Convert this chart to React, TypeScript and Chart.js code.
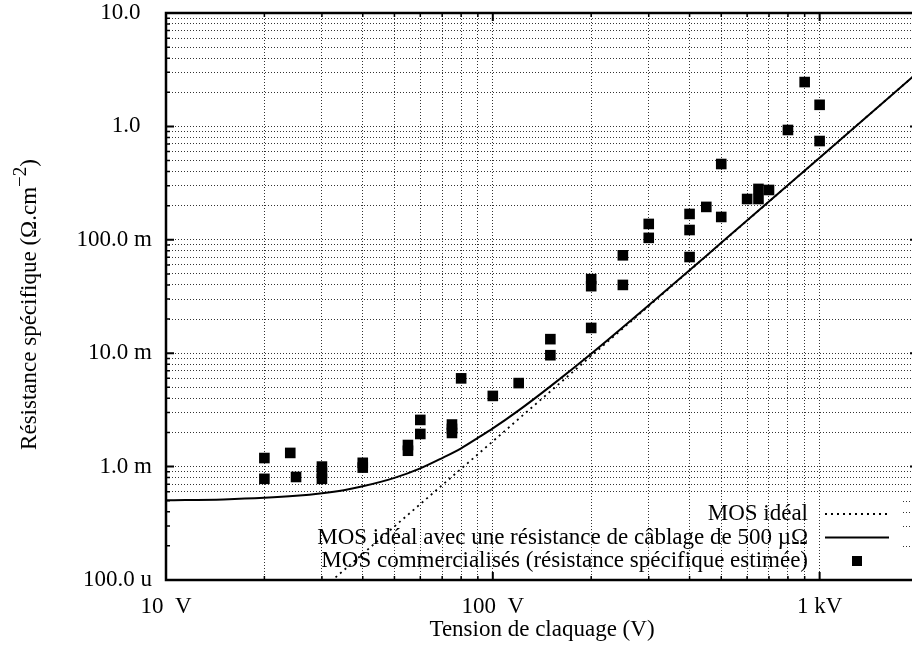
import React, { useEffect, useRef } from 'react';
import { Chart, registerables } from 'chart.js';

Chart.register(...registerables);

const FONT = "'Liberation Serif', 'Times New Roman', 'DejaVu Serif', serif";

// Axis ticks
const xDecades = [10, 100, 1000];
const xMajorLabels = ['10  V', '100  V', '1 kV'];
const yDecades = [1e-4, 1e-3, 1e-2, 1e-1, 1, 10];
const yMajorLabels = ['100.0 u', '1.0 m', '10.0 m', '100.0 m', '1.0  ', '10.0  '];
const multipliers = [1, 2, 3, 4, 5, 6, 7, 8, 9];
const keyHiddenGrid = [2e-4, 3e-4, 4e-4, 5e-4];

// Axis titles
const xTitle = 'Tension de claquage (V)';
const yTitleMain = 'Résistance spécifique (Ω.cm';
const yTitleSup = '−2';
const yTitleEnd = ')';

// MOS idéal
const idealVoltage = [30, 100, 1000, 2000];
const idealResistance = [8.3e-5, 1.67e-3, 0.53, 3.0];

// MOS idéal + 500 µΩ wiring
const wiredVoltage = [10, 15, 20, 25, 30, 35, 40, 50, 60, 70, 80, 90, 100, 120, 150, 200, 300, 500, 1000, 2000];
const wiredResistance = [5.05e-4, 5.14e-4, 5.3e-4, 5.52e-4, 5.82e-4, 6.2e-4, 6.7e-4, 7.95e-4, 9.65e-4, 1.19e-3, 1.45e-3, 1.79e-3, 2.17e-3, 3.13e-3, 5.1e-3, 9.9e-3, 2.65e-2, 9.4e-2, 0.53, 3.0];

// MOS commercialisés
const commercialVoltage = [20, 20, 24, 25, 30, 30, 30, 40, 40, 55, 55, 60, 60, 75, 75, 75, 80, 100, 120, 150, 150, 200, 200, 200, 250, 250, 300, 300, 400, 400, 400, 450, 500, 500, 600, 650, 650, 700, 800, 900, 1000, 1000];
const commercialResistance = [1.19e-3, 7.8e-4, 1.32e-3, 8.1e-4, 1.0e-3, 8.8e-4, 7.8e-4, 1.08e-3, 9.8e-4, 1.55e-3, 1.38e-3, 2.58e-3, 1.94e-3, 2.35e-3, 2.15e-3, 1.98e-3, 6.0e-3, 4.2e-3, 5.45e-3, 1.33e-2, 9.6e-3, 4.5e-2, 3.9e-2, 1.67e-2, 7.3e-2, 4.0e-2, 0.138, 0.104, 0.169, 0.122, 0.0705, 0.195, 0.466, 0.159, 0.229, 0.281, 0.229, 0.275, 0.93, 2.46, 1.55, 0.743];

const xMin = 10, xMax = 2000, yMin = 1e-4, yMax = 10;

const same = (a: number, b: number) => Math.abs(Math.log10(a) - Math.log10(b)) < 1e-6;

function buildTicks(decades: number[], max: number) {
  const out: { value: number; major: boolean }[] = [];
  decades.forEach((d) => {
    multipliers.forEach((m) => {
      const v = d * m;
      if (v <= max * 1.000001) out.push({ value: v, major: m === 1 });
    });
  });
  return out;
}

const xTicks = buildTicks(xDecades, xMax);
const yTicks = buildTicks(yDecades, yMax);

const framePlugin = {
  id: 'gnuFrame',
  afterDraw(chart: any) {
    const { ctx, chartArea: a, scales } = chart;
    const xs = scales.x;
    const ys = scales.y;
    ctx.save();
    // grid pieces visible right of the key
    ctx.strokeStyle = '#333';
    ctx.lineWidth = 1;
    ctx.setLineDash([1, 2]);
    keyHiddenGrid.forEach((v) => {
      const y = Math.round(ys.getPixelForValue(v)) + 0.5;
      ctx.beginPath();
      ctx.moveTo(a.right - 15, y);
      ctx.lineTo(a.right, y);
      ctx.stroke();
    });
    ctx.setLineDash([]);
    ctx.strokeStyle = '#000';
    // ticks (inward, all four sides)
    xs.ticks.forEach((t: any) => {
      const x = xs.getPixelForValue(t.value);
      const L = t.major ? 8 : 4;
      ctx.lineWidth = t.major ? 2 : 1.5;
      ctx.beginPath();
      ctx.moveTo(x, a.bottom);
      ctx.lineTo(x, a.bottom - L);
      ctx.moveTo(x, a.top);
      ctx.lineTo(x, a.top + L);
      ctx.stroke();
    });
    ys.ticks.forEach((t: any) => {
      const y = ys.getPixelForValue(t.value);
      const L = t.major ? 8 : 4;
      ctx.lineWidth = t.major ? 2 : 1.5;
      ctx.beginPath();
      ctx.moveTo(a.left, y);
      ctx.lineTo(a.left + L, y);
      ctx.moveTo(a.right, y);
      ctx.lineTo(a.right - L, y);
      ctx.stroke();
    });
    // frame
    ctx.lineWidth = 2.5;
    ctx.strokeRect(a.left, a.top, a.right - a.left, a.bottom - a.top);
    // key
    ctx.font = `23px ${FONT}`;
    ctx.textAlign = 'right';
    ctx.textBaseline = 'middle';
    ctx.fillStyle = '#000';
    const ds = chart.data.datasets;
    ds.forEach((d: any, i: number) => {
      const y = a.bottom - 66 + i * 23.5;
      ctx.fillText(d.label, a.right - 110, y);
      if (d.showLine) {
        ctx.lineWidth = d.borderWidth;
        ctx.setLineDash(d.borderDash || []);
        ctx.beginPath();
        ctx.moveTo(a.right - 93, y);
        ctx.lineTo(a.right - 29, y);
        ctx.stroke();
        ctx.setLineDash([]);
      } else {
        ctx.fillRect(a.right - 66, y - 5, 10, 10);
      }
    });
    // y axis title with superscript
    const mainFont = `23px ${FONT}`;
    const supFont = `19px ${FONT}`;
    ctx.font = mainFont;
    const w1 = ctx.measureText(yTitleMain).width;
    const w3 = ctx.measureText(yTitleEnd).width;
    ctx.font = supFont;
    const w2 = ctx.measureText(yTitleSup).width;
    const total = w1 + w2 + w3;
    ctx.translate(36, 304.5);
    ctx.rotate(-Math.PI / 2);
    ctx.textAlign = 'left';
    ctx.textBaseline = 'alphabetic';
    let x = -total / 2;
    ctx.font = mainFont;
    ctx.fillText(yTitleMain, x, 0);
    x += w1;
    ctx.font = supFont;
    ctx.fillText(yTitleSup, x, -10);
    x += w2;
    ctx.font = mainFont;
    ctx.fillText(yTitleEnd, x, 0);
    ctx.restore();
  },
};

export default function App() {
  const ref = useRef<HTMLCanvasElement>(null);
  useEffect(() => {
    const canvas = ref.current as HTMLCanvasElement;
    const gridColor = (c: any) => {
      const v = c.tick ? c.tick.value : 0;
      if (c.scale && c.scale.axis === 'y' && keyHiddenGrid.some((h) => same(h, v))) return 'rgba(0,0,0,0)';
      return '#333';
    };
    const chart = new Chart(canvas, {
      type: 'scatter',
      data: {
        datasets: [
          {
            label: 'MOS idéal',
            data: idealVoltage.map((v, i) => ({ x: v, y: idealResistance[i] })),
            showLine: true,
            borderColor: '#000',
            borderWidth: 1.8,
            borderDash: [2, 4],
            pointRadius: 0,
            order: 2,
          },
          {
            label: 'MOS idéal avec une résistance de câblage de 500 µΩ',
            data: wiredVoltage.map((v, i) => ({ x: v, y: wiredResistance[i] })),
            showLine: true,
            borderColor: '#000',
            borderWidth: 2,
            pointRadius: 0,
            cubicInterpolationMode: 'monotone',
            order: 1,
          },
          {
            label: 'MOS commercialisés (résistance spécifique estimée)',
            data: commercialVoltage.map((v, i) => ({ x: v, y: commercialResistance[i] })),
            showLine: false,
            pointStyle: 'rect',
            pointRadius: 7.5,
            backgroundColor: '#000',
            borderColor: '#000',
            borderWidth: 0,
            order: 0,
          },
        ] as any,
      },
      options: {
        animation: false,
        responsive: false,
        devicePixelRatio: 1,
        layout: { padding: { top: 13, right: 12, left: 0, bottom: 0 } },
        plugins: { legend: { display: false }, tooltip: { enabled: false } },
        scales: {
          x: {
            type: 'logarithmic',
            min: xMin,
            max: xMax,
            afterBuildTicks: (s: any) => {
              s.ticks = xTicks.map((t) => ({ ...t }));
            },
            afterFit: (s: any) => {
              s.height = 76;
              s.paddingLeft = 0;
              s.paddingRight = 0;
            },
            ticks: {
              autoSkip: false,
              maxRotation: 0,
              padding: 13,
              color: '#000',
              font: { family: FONT, size: 23 },
              callback: (v: any) => {
                const i = xDecades.findIndex((d) => same(d, Number(v)));
                return i >= 0 ? xMajorLabels[i] : '';
              },
            },
            grid: { color: gridColor, lineWidth: 1, drawTicks: false },
            border: { display: false, dash: [1, 2] },
            title: {
              display: true,
              text: xTitle,
              color: '#000',
              font: { family: FONT, size: 23 },
              padding: { top: 0, bottom: 12 },
            },
          },
          y: {
            type: 'logarithmic',
            min: yMin,
            max: yMax,
            afterBuildTicks: (s: any) => {
              s.ticks = yTicks.map((t) => ({ ...t }));
            },
            afterFit: (s: any) => {
              s.width = 166;
              s.paddingTop = 0;
              s.paddingBottom = 0;
            },
            ticks: {
              autoSkip: false,
              padding: 14,
              color: '#000',
              font: { family: FONT, size: 23 },
              callback: (v: any) => {
                const i = yDecades.findIndex((d) => same(d, Number(v)));
                return i >= 0 ? yMajorLabels[i] : '';
              },
            },
            grid: { color: gridColor, lineWidth: 1, drawTicks: false },
            border: { display: false, dash: [1, 2] },
            title: { display: false },
          },
        },
      } as any,
      plugins: [framePlugin],
    });
    return () => chart.destroy();
  }, []);
  return (
    <div style={{ position: 'fixed', left: 0, top: 0, width: 912, height: 656, overflow: 'hidden', background: '#fff' }}>
      <canvas ref={ref} width={930} height={656} style={{ display: 'block', width: 930, height: 656 }} />
    </div>
  );
}
